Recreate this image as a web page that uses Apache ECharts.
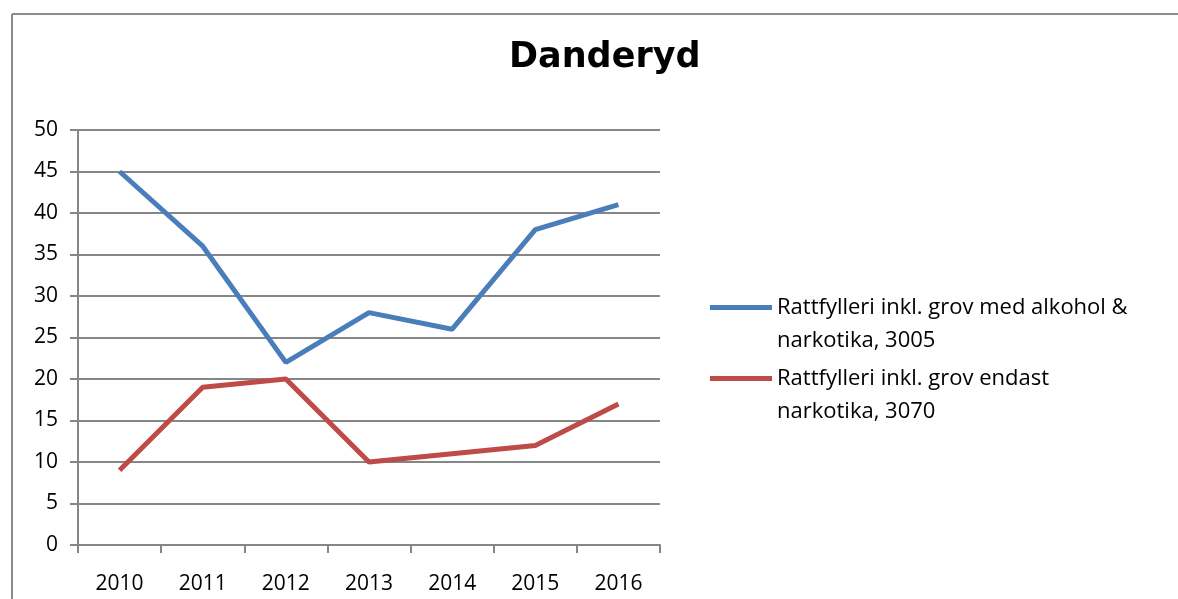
<!DOCTYPE html>
<html><head><meta charset="utf-8">
<script src="https://cdn.jsdelivr.net/npm/echarts@6/dist/echarts.min.js"></script>
<style>html,body{margin:0;padding:0;background:#fff}#c{width:1178px;height:599px}</style>
</head><body><div id="c"></div>
<script>
const years = ['2010','2011','2012','2013','2014','2015','2016'];
const alkoholNarkotika = [45, 36, 22, 28, 26, 38, 41];
const endastNarkotika = [9, 19, 20, 10, 11, 12, 17];
const seriesNames = ['Rattfylleri inkl. grov med alkohol &\nnarkotika, 3005', 'Rattfylleri inkl. grov endast\nnarkotika, 3070'];
const yTicks = [0, 5, 10, 15, 20, 25, 30, 35, 40, 45, 50];

const font = '"Open Sans", Arial, sans-serif';
const chart = echarts.init(document.getElementById('c'));
chart.setOption({
  animation: false,
  backgroundColor: '#fff',
  title: {
    text: 'Danderyd', left: 504, top: 35,
    textStyle: { fontFamily: '"DejaVu Sans", sans-serif', fontWeight: 'bold', fontSize: 35, color: '#000' }
  },
  graphic: [
    { type: 'line', shape: { x1: 12, y1: 14, x2: 1178, y2: 14 }, style: { stroke: '#8c8c8c', lineWidth: 2 } },
    { type: 'line', shape: { x1: 12, y1: 14, x2: 12, y2: 599 }, style: { stroke: '#8c8c8c', lineWidth: 2 } }
  ],
  legend: {
    orient: 'vertical', left: 705, top: 253, itemGap: -28,
    itemWidth: 62, itemHeight: 5, icon: 'rect',
    formatter: n => '\n' + n,
    textStyle: { fontFamily: font, fontSize: 22, color: '#000', lineHeight: 33 },
    data: seriesNames
  },
  grid: { left: 78, right: 518, top: 130, bottom: 54, containLabel: false },
  xAxis: {
    type: 'category', data: years, boundaryGap: true,
    axisLine: { lineStyle: { color: '#868686', width: 2 } },
    axisTick: { show: true, length: 8, lineStyle: { color: '#868686', width: 2 } },
    axisLabel: { fontFamily: font, fontSize: 21, color: '#000', margin: 29 }
  },
  yAxis: {
    type: 'value', min: 0, max: 50, interval: 5,
    axisLine: { show: true, lineStyle: { color: '#868686', width: 2 } },
    axisTick: { show: true, length: 8, lineStyle: { color: '#868686', width: 2 } },
    axisLabel: { fontFamily: font, fontSize: 21, color: '#000', margin: 20 },
    splitLine: { lineStyle: { color: '#868686', width: 2 } }
  },
  series: [
    { name: seriesNames[0], type: 'line', data: alkoholNarkotika, symbol: 'none', color: '#4a7ebb', lineStyle: { width: 5, color: '#4a7ebb' } },
    { name: seriesNames[1], type: 'line', data: endastNarkotika, symbol: 'none', color: '#be4b48', lineStyle: { width: 5, color: '#be4b48' } }
  ]
});
</script></body></html>
